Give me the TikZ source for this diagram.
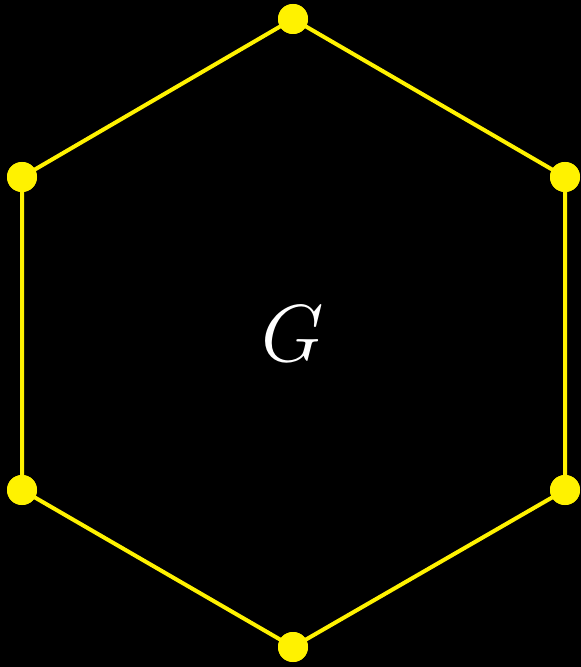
\documentclass[tikz,border=0pt]{standalone}
\usepackage{tikz}

\begin{document}
\begin{tikzpicture}[x=0.5pt,y=-0.5pt,
  vertex/.style={circle, fill=yellow, inner sep=0pt, minimum size=15pt},
  edge/.style={yellow, line width=2pt}]
\fill[black] (0,0) rectangle (581,667);
\useasboundingbox (0,0) rectangle (581,667);
\node[vertex] (top) at (293,19) {};
\node[vertex] (ul) at (22,177) {};
\node[vertex] (ur) at (565,177) {};
\node[vertex] (ll) at (22,490) {};
\node[vertex] (lr) at (565,490) {};
\node[vertex] (bot) at (293,647) {};
\draw[edge] (top.center) -- (ur.center) -- (lr.center) -- (bot.center) -- (ll.center) -- (ul.center) -- cycle;
\foreach \v in {top,ul,ur,ll,lr,bot}
  \node[vertex] at (\v) {};
\node[white, font=\huge] (label) at (293,334) {\scalebox{1.95}{$G$}};
\end{tikzpicture}
\end{document}
